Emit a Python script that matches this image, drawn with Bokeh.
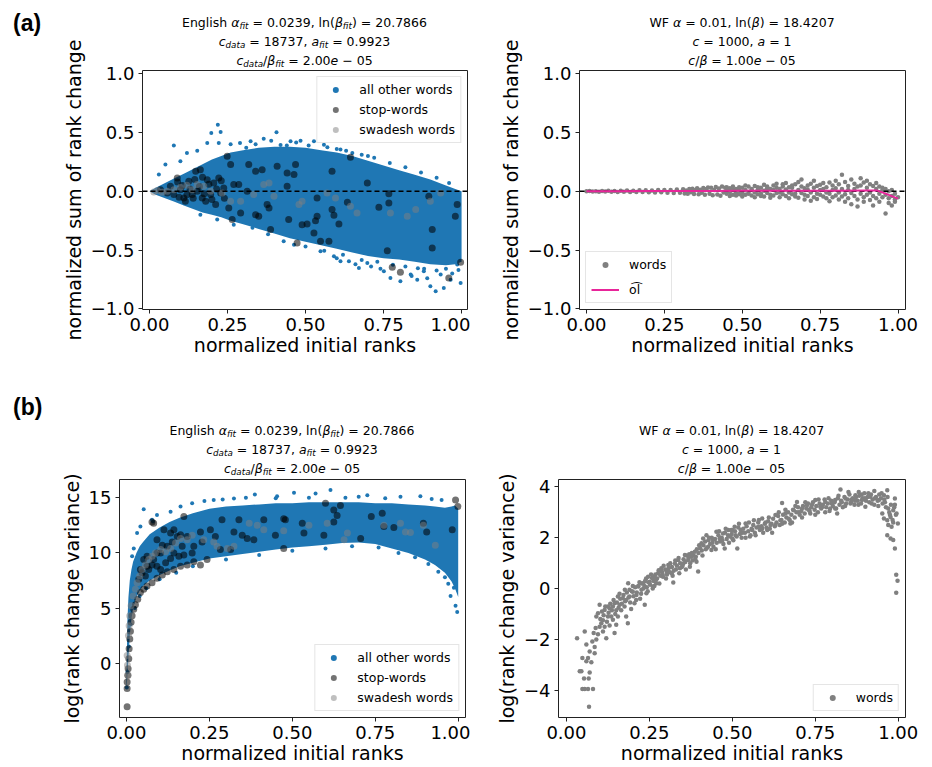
from bokeh.plotting import figure
from bokeh.models import Range1d, FixedTicker, Span, Legend, LegendItem, Div, Spacer
from bokeh.layouts import row, column
from bokeh.embed import file_html
from bokeh.resources import INLINE

# ---------------- DATA ----------------
x_ticks = [0.0, 0.25, 0.5, 0.75, 1.0]
x_tick_labels = ["0.00", "0.25", "0.50", "0.75", "1.00"]
sum_ticks = [-1.0, -0.5, 0.0, 0.5, 1.0]
sum_tick_labels = ["\u22121.0", "\u22120.5", "0.0", "0.5", "1.0"]
en_var_ticks = [0, 5, 10, 15]
en_var_tick_labels = ["0", "5", "10", "15"]
wf_var_ticks = [-4, -2, 0, 2, 4]
wf_var_tick_labels = ["\u22124", "\u22122", "0", "2", "4"]

# (a) English: dense region of "all other words" (upper / lower envelope)
en_sum_band_x = [0, .02, .05, .08, .11, .14, .17, .2, .23, .26, .3, .35, .4, .45, .5, .55, .6, .65, .7, .75, .8, .85, .9, .95, .98, 1.0]
en_sum_band_hi = [0, .03, .07, .11, .15, .19, .23, .27, .3, .33, .35, .37, .38, .38, .37, .35, .33, .3, .26, .22, .18, .14, .1, .05, .02, 0]
en_sum_band_lo = [0, -.03, -.06, -.09, -.12, -.15, -.18, -.2, -.22, -.25, -.28, -.32, -.36, -.4, -.43, -.46, -.49, -.52, -.55, -.57, -.58, -.6, -.62, -.63, -.62, -.6]
en_sum_other = [(.219, .567), (.198, .496), (.228, .505), (.078, .39), (.407, .502), (.185, .41), (.222, .41), (.26, .40),
                (.29, .41), (.324, .425), (.366, .448), (.452, .425), (.484, .43), (.527, .425), (.559, .397), (.612, .355),
                (.65, .326), (.12, .326), (.153, .346), (.051, .227), (.03, .142), (.099, .255),
                (.34, .40), (.39, .43), (.42, .395), (.47, .415), (.51, .39), (.57, .375), (.63, .345), (.68, .31), (.72, .285),
                (.77, .24), (.82, .205), (.87, .16), (.92, .115), (.96, .07), (.31, .37), (.44, .39), (.6, .36), (.7, .3),
                (.804, -.766), (.858, -.752), (.917, -.851), (.943, -.823), (.9, -.809), (.965, -.752), (.997, -.78),
                (.639, -.596), (.671, -.652), (.698, -.61), (.751, -.681), (.837, -.709), (.879, -.681), (.548, -.511),
                (.463, -.454), (.772, -.738), (.933, -.709), (.986, -.624), (.591, -.553), (.612, -.596), (.27, -.284),
                (.217, -.241), (.163, -.199), (.33, -.31), (.38, -.365), (.43, -.425), (.5, -.47), (.56, -.505), (.62, -.54),
                (.68, -.585), (.73, -.6), (.78, -.625), (.82, -.64), (.86, -.655), (.88, -.66), (.92, -.675), (.95, -.66),
                (.97, -.7), (.99, -.67), (.84, -.72), (.74, -.66), (.66, -.62), (.6, -.57), (.71, -.64), (.89, -.74)]
en_sum_stop = [(.035, .014), (.057, -.014), (.067, .043), (.078, -.028), (.089, .113), (.099, .014), (.11, -.057),
               (.115, -.085), (.126, .085), (.137, -.028), (.148, .17), (.153, 0), (.163, .184), (.169, -.057),
               (.18, -.085), (.185, .099), (.196, -.028), (.206, .071), (.212, -.113), (.222, .113), (.228, -.014),
               (.238, .028), (.249, .298), (.26, .227), (.254, -.142), (.265, -.241), (.27, .057), (.286, .057),
               (.292, -.184), (.318, .227), (.313, 0), (.34, .17), (.361, .184), (.34, -.199), (.35, -.213),
               (.377, -.113), (.383, -.142), (.388, -.326), (.409, .213), (.441, .156), (.468, .227), (.463, .142),
               (.441, .043), (.446, -.241), (.473, -.44), (.489, -.284), (.505, -.278), (.532, -.25), (.537, -.057),
               (.527, -.355), (.537, -.213), (.548, -.426), (.575, -.426), (.585, .17), (.585, -.156), (.591, -.204),
               (.607, -.278), (.634, -.094), (.644, .289), (.698, .071), (.735, -.136), (.767, -.099), (.767, -.02),
               (.762, -.505), (.778, -.647), (.804, -.689), (.895, -.043), (.906, -.326), (.906, -.482), (.959, -.738),
               (.98, -.213), (.986, -.113), (.997, -.604), (.105, .05), (.12, -.03), (.13, .02), (.14, -.06), (.16, .04),
               (.175, -.02), (.19, .06), (.2, -.07), (.215, .02), (.17, .12), (.145, .1), (.095, -.05), (.09, .08),
               (.24, -.06), (.23, .09)]
en_sum_swad = [(.014, -.006), (.025, .006), (.041, -.009), (.057, 0), (.078, .014), (.099, .034), (.12, .051),
               (.137, .014), (.153, .057), (.174, .043), (.196, 0), (.233, -.014), (.26, -.085), (.292, -.085),
               (.334, -.028), (.366, .057), (.383, .071), (.399, -.043), (.479, -.113), (.489, -.085), (.569, -.014),
               (.596, -.057), (.644, -.128), (.665, -.184), (.772, -.184), (.826, -.213), (.853, -.156), (.9, -.085),
               (.933, -.014)]

# (a) WF model: words (x, normalized sum) and expected curve
wf_sum_words = [(0, 0), (.01, .002), (.02, -.002), (.03, .001), (.04, -.003), (.05, .003), (.06, -.001), (.07, .004),
                (.08, -.004), (.09, .002), (.1, -.005), (.11, .005), (.12, -.003), (.13, .006), (.14, -.006), (.15, .004),
                (.16, -.007), (.17, .008), (.18, -.005), (.19, .009), (.2, -.009), (.21, .006), (.22, -.01), (.23, .011),
                (.24, -.008), (.25, .012), (.26, -.013), (.27, .01), (.28, -.014), (.29, .015), (.3, -.012),
                (.31, .017), (.315, -.018), (.32, .006), (.325, -.02), (.33, .02), (.335, -.008), (.34, .022),
                (.345, -.024), (.35, .01), (.355, .025), (.36, -.026), (.365, .014), (.37, -.012), (.375, .028),
                (.38, -.03), (.385, .02), (.39, .032), (.395, -.02), (.4, .03), (.405, -.034), (.41, .012), (.415, .036),
                (.42, -.028), (.425, .024), (.43, -.038), (.435, .04), (.44, -.01), (.445, .03),
                (.45, .01), (.45, -.02), (.45, .035), (.46, -.005), (.46, .025), (.46, -.04), (.47, .015), (.47, -.03),
                (.47, .04), (.48, -.01), (.48, .02), (.48, -.035), (.49, .005), (.49, .035), (.49, -.025), (.5, -.015),
                (.5, .03), (.5, -.045), (.51, .01), (.51, -.03), (.51, .05), (.52, -.005), (.52, .04), (.52, -.02),
                (.53, .02), (.53, -.035), (.53, .01), (.54, -.01), (.54, .045), (.54, -.05), (.55, .015), (.55, -.025),
                (.55, .035), (.56, -.02), (.56, .03), (.56, -.04), (.57, .005), (.57, -.045), (.57, .055), (.58, .025),
                (.58, -.015), (.58, .04), (.59, -.03), (.59, .02), (.59, -.055), (.6, .01), (.6, .05), (.6, -.035),
                (.61, -.015), (.61, .03), (.61, .065), (.62, .02), (.62, -.05), (.62, -.01), (.63, -.025), (.63, .04),
                (.63, .06), (.64, .015), (.64, -.04), (.64, .07), (.65, -.01), (.65, .035), (.65, -.06), (.66, .03),
                (.66, -.025), (.66, .05), (.67, -.02), (.67, .06), (.67, -.045), (.68, .01), (.68, -.055), (.68, .08),
                (.69, .04), (.69, -.015), (.69, .1), (.7, -.03), (.7, .025), (.7, -.07), (.71, .05), (.71, -.04),
                (.71, .015), (.72, -.01), (.72, .065), (.72, -.08), (.73, .03), (.73, -.05), (.73, .09), (.74, -.02),
                (.74, .045), (.74, -.065), (.75, .055), (.75, -.03), (.75, .01), (.76, -.045), (.76, .07), (.76, .02),
                (.77, .035), (.77, -.06), (.77, -.01), (.78, .075), (.78, -.02), (.78, -.085), (.79, .01), (.79, .05),
                (.79, -.05), (.8, -.035), (.8, .09), (.8, .025), (.81, .06), (.81, -.07), (.81, -.01), (.82, .14),
                (.82, .02), (.82, -.045), (.83, -.025), (.83, .08), (.83, -.09), (.84, .045), (.84, -.06), (.84, .01),
                (.85, -.015), (.85, .1), (.85, -.11), (.86, .065), (.86, -.04), (.86, .02), (.87, -.07), (.87, .04),
                (.87, -.13), (.88, .11), (.88, -.02), (.88, .05), (.89, -.05), (.89, .075), (.89, -.09), (.9, .03),
                (.9, -.03), (.9, .09), (.91, .06), (.91, -.075), (.91, -.01), (.92, -.04), (.92, .045), (.92, -.12),
                (.93, .02), (.93, -.06), (.93, .07), (.94, -.02), (.94, .04), (.94, -.09), (.95, .01), (.95, -.05),
                (.95, .03), (.96, -.03), (.96, -.19), (.96, .02), (.97, -.06), (.97, 0), (.97, -.1), (.98, -.04),
                (.98, .01), (.98, -.12), (.99, -.07), (.99, -.02), (.99, -.09), (1.0, -.05)]
wf_ol_x = [0, .1, .2, .3, .4, .5, .6, .7, .8, .9, .934, .96, 1.0]
wf_ol_y = [0, .001, .002, .003, .003, .004, .004, .005, .005, .006, .006, -.02, -.062]

# (b) English: log rank change variance
en_var_band_x = [0, .003, .006, .01, .015, .02, .03, .04, .05, .07, .1, .13, .16, .2, .25, .3, .35, .4, .45, .5, .55,
                 .6, .65, .7, .75, .8, .85, .9, .93, .96, .98, .99, 1.0]
en_var_band_hi = [-1, 4, 6, 7.5, 8.5, 9.2, 10, 10.6, 11, 11.7, 12.3, 12.8, 13.2, 13.6, 14.0, 14.2, 14.3, 14.4, 14.5,
                  14.5, 14.6, 14.6, 14.6, 14.6, 14.5, 14.5, 14.4, 14.3, 14.2, 14.1, 14.2, 14.3, 14.0]
en_var_band_lo = [-2.5, -1, .5, 2.5, 4, 5, 6, 6.6, 7, 7.5, 8.0, 8.4, 8.8, 9.1, 9.5, 9.7, 9.9, 10.1, 10.3, 10.5, 10.6,
                  10.75, 10.9, 10.95, 10.8, 10.4, 10.0, 9.4, 8.9, 8.2, 7.4, 6.8, 6.0]
en_var_other = [(.052, 13.95), (.08, 12.84), (.387, 15.3), (.454, 15.15), (.615, 15.7), (.57, 15.4), (.726, 15.24),
                (.826, 15.1), (.886, 15.15), (.324, 14.94), (.263, 14.8), (.198, 14.5), (.163, 14.2), (.133, 13.74),
                (.092, 13.44), (.077, 13.0), (.042, 12.4), (.032, 11.8), (.022, 10.4), (.017, 9.7), (.992, 5.2),
                (.997, 4.65), (.977, 6.1), (.987, 6.84), (.505, 15.45), (.66, 15.0), (.7, 15.1), (.78, 14.95),
                (.92, 14.9), (.95, 14.8), (.45, 14.95), (.36, 15.0), (.235, 14.7), (.29, 14.85), (.55, 15.0),
                (.3, 9.4), (.4, 9.8), (.5, 10.2), (.6, 10.4), (.68, 10.6), (.76, 10.5), (.82, 10.0), (.87, 9.6),
                (.91, 9.0), (.94, 8.3), (.96, 7.8), (.97, 7.2), (.2, 8.8), (.15, 8.2), (.1, 7.6), (.06, 6.8),
                (.04, 6.1), (.025, 5.0), (.012, 3.5), (.007, 1.5), (.003, -.8), (.001, -2.2)]
en_var_stop = [(.002, -3.96), (.002, -2.3), (.002, -1.7), (.004, -1.1), (.005, -.5), (.007, .4), (.008, 1.3), (.01, 2.2),
               (.012, 2.9), (.014, 3.7), (.017, 4.3), (.022, 4.9), (.027, 5.3), (.034, 5.8), (.042, 6.4), (.052, 6.7),
               (.062, 7.0), (.077, 7.3), (.092, 7.7), (.108, 8.0), (.123, 8.3), (.143, 8.5), (.163, 8.8), (.183, 8.9),
               (.203, 9.2), (.223, 8.9), (.243, 9.4), (.042, 8.5), (.062, 8.8), (.082, 9.4), (.103, 10.0), (.092, 11.2),
               (.082, 12.7), (.077, 12.8), (.113, 12.1), (.133, 11.8), (.153, 11.5), (.168, 10.6), (.173, 13.3),
               (.163, 11.65), (.183, 11.5), (.198, 10.0), (.203, 10.6), (.223, 11.9), (.228, 11.0), (.253, 12.1),
               (.268, 11.5), (.283, 10.3), (.288, 13.0), (.314, 10.3), (.324, 11.9), (.339, 13.0), (.349, 11.6),
               (.364, 11.3), (.384, 11.2), (.414, 13.0), (.449, 11.6), (.474, 13.1), (.479, 13.0), (.474, 10.4),
               (.53, 12.7), (.535, 11.8), (.595, 11.6), (.625, 13.9), (.635, 13.4), (.645, 14.3), (.625, 12.8),
               (.6, 14.5), (.706, 11.3), (.738, 13.3), (.771, 13.6), (.776, 12.4), (.806, 12.3), (.895, 12.7),
               (.905, 11.9), (.982, 12.1), (.992, 14.8), (.999, 14.2), (.037, 7.6), (.047, 8.2), (.057, 7.9),
               (.067, 8.5), (.077, 8.9), (.092, 8.8), (.103, 8.5), (.118, 9.1), (.133, 9.5), (.143, 10.0), (.158, 9.7),
               (.173, 9.8), (.123, 10.6), (.138, 11.0), (.108, 10.7), (.092, 10.0), (.062, 9.7), (.052, 9.4),
               (.143, 12.1)]
en_var_swad = [(.002, .7), (.003, -.2), (.005, -1.1), (.006, 2.5), (.008, 3.4), (.01, 4.3), (.014, 5.2), (.02, 6.1),
               (.027, 6.7), (.032, 7.3), (.04, 7.9), (.047, 8.5), (.057, 8.9), (.067, 9.4), (.077, 9.7), (.087, 10.0),
               (.103, 10.3), (.118, 10.1), (.133, 10.4), (.148, 10.9), (.163, 11.3), (.183, 11.2), (.198, 11.6),
               (.233, 11.2), (.263, 11.0), (.273, 10.6), (.304, 10.4), (.324, 10.6), (.37, 12.7), (.394, 12.5),
               (.414, 12.1), (.474, 12.0), (.55, 12.5), (.605, 12.7), (.656, 11.2), (.666, 11.8), (.776, 12.5),
               (.826, 12.7), (.841, 11.9), (.856, 11.85), (.895, 12.5), (.931, 10.7)]

# (b) WF model: log rank change variance
wf_var_words = [(.032, -1.95), (.04, -3.25), (.045, -3.25), (.048, -3.95), (.055, -3.95), (.065, -3.95), (.08, -3.95),
                (.068, -4.65), (.053, -3.54), (.067, -3.54), (.048, -2.73), (.06, -2.86), (.055, -1.69), (.06, -2.2),
                (.065, -2.73), (.07, -2.47), (.078, -2.08), (.082, -1.75), (.085, -2.54), (.09, -2.0), (.088, -1.55),
                (.095, -.97), (.1, -.64), (.09, -1.1), (.105, -1.36), (.11, -1.69), (.12, -1.95), (.115, -.84),
                (.125, -1.1), (.13, -.77), (.14, -1.23), (.145, -1.75), (.15, -1.42), (.145, -.58), (.155, -.31),
                (.16, -.64), (.17, -.38), (.18, -1.1), (.185, -1.36), (.176, -.05), (.186, .21), (.19, -.31),
                (.2, -.12), (.205, -.58), (.211, -.25), (.216, .08), (.226, -.05), (.231, .21), (.236, -.64),
                (.241, -.18), (.246, .47), (.251, .27), (.261, .08), (.266, .47), (.271, .21), (.276, .6), (.286, .8),
                (.291, .47), (.302, .67), (.307, .93), (.317, .6), (.322, .24), (.327, .99), (.337, 1.12), (.342, .8),
                (.352, .99), (.357, 1.32), (.367, 1.12), (.372, .86), (.377, 1.25), (.387, 1.45), (.392, 1.06),
                (.397, .67), (.407, 1.78), (.412, 1.97), (.422, 2.1), (.427, 1.65), (.437, 1.52), (.442, 1.91),
                (.452, 2.24), (.462, 1.97), (.472, 2.17), (.477, 1.58), (.487, 2.1), (.497, 2.3), (.507, 2.43),
                (.5, 1.97), (.515, 1.58), (.525, 2.3), (.54, 2.56), (.555, 2.1), (.565, 2.69), (.58, 2.43), (.59, 2.76),
                (.605, 2.3), (.615, 2.5), (.63, 2.89), (.645, 2.69), (.65, 3.37), (.66, 2.95), (.675, 2.56),
                (.685, 3.08), (.695, 3.41), (.71, 3.15), (.725, 3.28), (.735, 2.95), (.75, 3.48), (.765, 3.22),
                (.78, 3.41), (.795, 3.15), (.81, 3.48), (.816, 2.95), (.826, 3.9), (.841, 3.54), (.856, 3.35),
                (.871, 3.67), (.881, 3.8), (.891, 3.48), (.901, 3.22), (.916, 3.61), (.928, 3.84), (.942, 3.48),
                (.957, 3.67), (.967, 3.87), (.952, 2.95), (.957, 2.76), (.967, 2.69), (.977, 2.82), (.985, 3.08),
                (.99, 3.54), (.995, 2.95), (.999, 2.56), (.967, 2.1), (.977, 1.97), (.985, 1.91), (.99, 1.58),
                (.994, .54), (.998, .31), (.994, -.16), (.97, 3.15), (.98, 2.43),
                (.102, -1.2), (.107, -.9), (.112, -1.05), (.117, -.7), (.122, -1.3), (.127, -.95), (.132, -.6),
                (.137, -.85), (.142, -.45), (.147, -1.0), (.152, -.55), (.157, -.75), (.162, -.4), (.167, -.6),
                (.172, -.25), (.177, -.5), (.182, -.15), (.187, -.35), (.192, -.55), (.197, -.1), (.202, -.3),
                (.207, .05), (.212, -.15), (.217, .1), (.222, -.4), (.227, .2), (.232, 0), (.237, .3), (.242, .05),
                (.247, .25), (.252, .15), (.258, .42), (.263, .3), (.268, .55), (.273, .4), (.278, .72), (.283, .5),
                (.288, .65), (.293, .9), (.298, .75), (.303, .55), (.308, .8), (.313, 1.0), (.318, .85), (.323, .7),
                (.328, 1.1), (.333, .9), (.338, 1.2), (.343, 1.0), (.348, .85), (.353, 1.15), (.358, 1.05),
                (.363, 1.3), (.368, 1.2), (.373, 1.0), (.378, 1.4), (.383, 1.3), (.388, 1.15), (.393, 1.55),
                (.398, 1.4), (.403, 1.6), (.408, 1.5), (.413, 1.7), (.418, 1.85), (.423, 1.6), (.428, 1.9),
                (.433, 1.75), (.438, 2.0), (.443, 1.65), (.448, 1.95), (.453, 1.8), (.458, 2.1), (.463, 1.85),
                (.468, 2.0), (.473, 1.75), (.478, 2.2), (.483, 1.95), (.488, 2.3), (.493, 2.05), (.498, 2.15),
                (.503, 1.9), (.508, 2.25), (.513, 2.05), (.518, 2.4), (.523, 2.15), (.528, 2.0), (.533, 2.35),
                (.538, 2.2), (.543, 2.45), (.548, 2.25), (.553, 2.05), (.558, 2.35), (.563, 2.5), (.568, 2.2),
                (.573, 2.4), (.578, 2.6), (.583, 2.3), (.588, 2.45), (.593, 2.2), (.598, 2.55), (.603, 2.4),
                (.608, 2.65), (.613, 2.35), (.618, 2.55), (.623, 2.75), (.628, 2.45), (.633, 2.6), (.638, 2.85),
                (.643, 2.5), (.648, 2.7), (.653, 2.9), (.658, 2.6), (.663, 2.8), (.668, 3.0), (.673, 2.7), (.678, 2.9),
                (.683, 3.1), (.688, 2.8), (.693, 3.0), (.698, 3.2), (.703, 2.9), (.708, 3.05), (.713, 3.25),
                (.718, 2.95), (.723, 3.15), (.728, 3.35), (.733, 3.05), (.738, 3.2), (.743, 3.4), (.748, 3.1),
                (.753, 3.25), (.758, 3.0), (.763, 3.35), (.768, 3.15), (.773, 3.3), (.778, 3.5), (.783, 3.2),
                (.788, 3.35), (.793, 3.05), (.798, 3.45), (.803, 3.25), (.808, 3.4), (.813, 3.15), (.818, 3.55),
                (.823, 3.3), (.828, 3.45), (.833, 3.2), (.838, 3.6), (.843, 3.35), (.848, 3.5), (.853, 3.7),
                (.858, 3.4), (.863, 3.55), (.868, 3.3), (.873, 3.6), (.878, 3.45), (.883, 3.65), (.888, 3.35),
                (.893, 3.55), (.898, 3.75), (.903, 3.45), (.908, 3.6), (.913, 3.4), (.918, 3.7), (.923, 3.5),
                (.928, 3.3), (.933, 3.6), (.938, 3.45), (.943, 3.7), (.948, 3.55), (.953, 3.35), (.958, 3.5),
                (.963, 3.2), (.968, 3.6), (.973, 3.0), (.978, 3.3), (.983, 2.7), (.988, 3.2), (.993, 2.9),
                (.26, 0), (.27, .35), (.28, .2), (.29, .55), (.3, .4), (.31, .65), (.32, .5), (.33, .75), (.34, .6),
                (.35, .9), (.36, .75), (.37, 1.35), (.38, 1.1), (.39, 1.25), (.4, 1.7), (.41, 1.3), (.42, 1.55),
                (.43, 2.0), (.44, 1.8), (.45, 1.55), (.46, 2.25), (.47, 1.9), (.48, 2.35), (.49, 1.8), (.5, 2.3),
                (.51, 2.1), (.52, 2.55), (.53, 2.2), (.54, 2.0), (.55, 2.6), (.56, 2.3), (.57, 2.1), (.58, 2.7),
                (.59, 2.35), (.6, 2.6), (.61, 2.8), (.62, 2.2), (.63, 2.5), (.64, 3.0), (.65, 2.55), (.66, 3.1),
                (.67, 2.75), (.68, 2.6), (.69, 3.25), (.7, 3.0), (.71, 2.8), (.72, 3.4), (.73, 3.1), (.74, 3.3),
                (.75, 2.9), (.76, 3.5), (.77, 3.2), (.78, 3.0), (.79, 3.55), (.8, 3.35), (.81, 3.15), (.82, 3.65),
                (.83, 3.4), (.84, 3.25), (.85, 3.8), (.86, 3.5), (.87, 3.45), (.88, 3.3), (.89, 3.7), (.9, 3.55),
                (.91, 3.75), (.92, 3.35), (.93, 3.55), (.94, 3.25), (.95, 3.75), (.96, 3.4), (.97, 2.5), (.975, 2.9),
                (.985, 2.6), (.99, 3.3), (.07, -3.3), (.075, -2.9), (.085, -2.3), (.095, -1.8), (.1, -1.5),
                (.11, -1.25), (.115, -1.5), (.125, -.7), (.13, -1.45), (.135, -1.1), (.14, -.7), (.15, -.85),
                (.155, -1.1), (.16, -.2), (.165, -.85), (.175, -.7), (.18, -.45), (.19, -.05), (.195, -.8), (.2, .1),
                (.21, -.45), (.22, .25), (.225, -.2), (.235, .1), (.24, .4), (.245, -.1), (.255, .55), (.265, .1)]

# ---------------- STYLE ----------------
BLUE = "#1f77b4"
FONT = "DejaVu Sans"
H_A = 357
H_B = 401


def xs(pairs):
    return [p[0] for p in pairs]


def ys(pairs):
    return [p[1] for p in pairs]


def make_fig(w, h, bl, br, bt, bb, xr, yr, xt, xtl, yt, ytl, xlabel, ylabel):
    p = figure(width=w, height=h, x_range=Range1d(*xr), y_range=Range1d(*yr),
               output_backend="svg", toolbar_location=None,
               min_border_left=bl, min_border_right=br, min_border_top=bt, min_border_bottom=bb)
    p.xgrid.visible = False
    p.ygrid.visible = False
    p.border_fill_alpha = 0
    p.outline_line_color = "#222222"
    p.outline_line_width = 1
    p.outline_line_alpha = 1
    p.xaxis.ticker = FixedTicker(ticks=xt)
    p.xaxis.major_label_overrides = dict(zip(xt, xtl))
    p.yaxis.ticker = FixedTicker(ticks=yt)
    p.yaxis.major_label_overrides = dict(zip(yt, ytl))
    p.xaxis.axis_label = xlabel
    p.yaxis.axis_label = ylabel
    for ax in (p.xaxis[0], p.yaxis[0]):
        ax.axis_line_color = None
        ax.major_tick_line_color = "#222222"
        ax.major_tick_out = 4
        ax.major_tick_in = 0
        ax.minor_tick_line_color = None
        ax.major_label_text_font = FONT
        ax.major_label_text_font_size = "18px"
        ax.major_label_text_color = "black"
        ax.axis_label_text_font = FONT
        ax.axis_label_text_font_size = "19px"
        ax.axis_label_text_font_style = "normal"
        ax.axis_label_text_color = "black"
    p.xaxis.major_label_standoff = 4
    p.xaxis.axis_label_standoff = 0
    p.yaxis.major_label_standoff = 4
    p.yaxis.axis_label_standoff = 3
    return p


def style_legend(lg, loc, pad, gw, ls, spacing):
    lg.location = loc
    lg.margin = 6
    lg.padding = pad
    lg.spacing = spacing
    lg.glyph_width = gw
    lg.glyph_height = 15
    lg.label_height = 15
    lg.label_standoff = ls
    lg.label_text_font = FONT
    lg.label_text_font_size = "12.5px"
    lg.label_text_color = "black"
    lg.border_line_color = "#cccccc"
    lg.border_line_width = 1
    lg.background_fill_alpha = 0.8


# ---------- (a) left ----------
pa1 = make_fig(462, H_A, 134, 3, 62, 56, (-0.0224, 1.019), (-1.006, 1.028),
               x_ticks, x_tick_labels, sum_ticks, sum_tick_labels,
               "normalized initial ranks", "normalized sum of rank change")
pa1.varea(x=en_sum_band_x, y1=en_sum_band_lo, y2=en_sum_band_hi, fill_color=BLUE)
r_o = pa1.scatter(xs(en_sum_other), ys(en_sum_other), size=4, color=BLUE, line_color=None)
r_s = pa1.scatter(xs(en_sum_stop), ys(en_sum_stop), size=7, color="black", alpha=0.55, line_color=None)
r_w = pa1.scatter(xs(en_sum_swad), ys(en_sum_swad), size=7, color="gray", alpha=0.5, line_color=None)
pa1.add_layout(Span(location=0, dimension="width", line_color="black", line_dash="5 3", line_width=1.5))
lg = Legend(items=[LegendItem(label="all other words", renderers=[r_o]),
                   LegendItem(label="stop-words", renderers=[r_s]),
                   LegendItem(label="swadesh words", renderers=[r_w])])
style_legend(lg, "top_right", 5, 26, 11, 5)
pa1.add_layout(lg)

# ---------- (a) right ----------
pa2 = make_fig(454, H_A, 109, 19, 62, 56, (-0.0225, 1.024), (-1.006, 1.028),
               x_ticks, x_tick_labels, sum_ticks, sum_tick_labels,
               "normalized initial ranks", "normalized sum of rank change")
r_wf = pa2.scatter(xs(wf_sum_words), ys(wf_sum_words), size=4.5, color="gray", line_color=None)
pa2.add_layout(Span(location=0, dimension="width", line_color="black", line_dash="5 3", line_width=1.5))
r_ol = pa2.line(wf_ol_x, wf_ol_y, line_color="#e8259a", line_width=2, level="overlay")
lg2 = Legend(items=[LegendItem(label="words", renderers=[r_wf]),
                    LegendItem(label="o\u0361l", renderers=[r_ol])])
style_legend(lg2, "bottom_left", 5, 28, 10, 10)
pa2.add_layout(lg2)

# ---------- (b) left ----------
pb1 = make_fig(462, H_B, 111, 5, 114, 47, (-0.021, 1.022), (-4.93, 16.66),
               x_ticks, x_tick_labels, en_var_ticks, en_var_tick_labels,
               "normalized initial ranks", "log(rank change variance)")
pb1.varea(x=en_var_band_x, y1=en_var_band_lo, y2=en_var_band_hi, fill_color=BLUE)
r_o3 = pb1.scatter(xs(en_var_other), ys(en_var_other), size=4, color=BLUE, line_color=None)
r_s3 = pb1.scatter(xs(en_var_stop), ys(en_var_stop), size=7, color="black", alpha=0.55, line_color=None)
r_w3 = pb1.scatter(xs(en_var_swad), ys(en_var_swad), size=7, color="gray", alpha=0.5, line_color=None)
lg3 = Legend(items=[LegendItem(label="all other words", renderers=[r_o3]),
                    LegendItem(label="stop-words", renderers=[r_s3]),
                    LegendItem(label="swadesh words", renderers=[r_w3])])
style_legend(lg3, "bottom_right", 5, 26, 11, 5)
pb1.add_layout(lg3)

# ---------- (b) right ----------
pb2 = make_fig(454, H_B, 88, 19, 114, 47, (-0.024, 1.022), (-5.07, 4.29),
               x_ticks, x_tick_labels, wf_var_ticks, wf_var_tick_labels,
               "normalized initial ranks", "log(rank change variance)")
r_wf4 = pb2.scatter(xs(wf_var_words), ys(wf_var_words), size=4.5, color="gray", line_color=None)
lg4 = Legend(items=[LegendItem(label="words", renderers=[r_wf4])])
style_legend(lg4, "bottom_right", 5, 27, 10, 5)
pb2.add_layout(lg4)


# ---------------- TITLES ----------------
def mi(s):
    return f"<i>{s}</i>"


def sb(s):
    return f'<span style="font-size:70%;vertical-align:-0.28em;line-height:0"><i>{s}</i></span>'


en_title = [f"English {mi('&alpha;')}{sb('fit')} = 0.0239, ln({mi('&beta;')}{sb('fit')}) = 20.7866",
            f"{mi('c')}{sb('data')} = 18737, {mi('a')}{sb('fit')} = 0.9923",
            f"{mi('c')}{sb('data')}/{mi('&beta;')}{sb('fit')} = 2.00{mi('e')} &minus; 05"]
wf_title = [f"WF {mi('&alpha;')} = 0.01, ln({mi('&beta;')}) = 18.4207",
            f"{mi('c')} = 1000, {mi('a')} = 1",
            f"{mi('c')}/{mi('&beta;')} = 1.00{mi('e')} &minus; 05"]


def title_div(lines, w, h, pad_top):
    inner = "".join(f'<div style="height:19px;line-height:19px;white-space:nowrap">{ln}</div>' for ln in lines)
    html = (f'<div style="width:{w}px;text-align:center;font-family:\'DejaVu Sans\';font-size:12.5px;'
            f'color:black;padding-top:{pad_top}px">{inner}</div>')
    return Div(text=html, width=w, height=h, margin=0, disable_math=True)


def tag_div(text, w, h, pad_top):
    html = (f'<div style="font-family:\'Liberation Sans\';font-weight:bold;font-size:23px;line-height:23px;'
            f'color:black;padding-left:5px;padding-top:{pad_top}px">{text}</div>')
    return Div(text=html, width=w, height=h, margin=0, disable_math=True)


OVER = {"position": "relative", "z-index": "10"}

row_fa = row(children=[Spacer(width=8, height=H_A, margin=0), pa1, pa2], spacing=0)
row_ta = row(children=[Spacer(width=8, height=60, margin=0), tag_div("(a)", 134, 60, 4),
                       title_div(en_title, 325, 60, 5),
                       Spacer(width=112, height=60, margin=0), title_div(wf_title, 326, 60, 5),
                       Spacer(width=19, height=60, margin=0)],
             spacing=0, margin=(-H_A, 0, H_A - 60, 0), styles=OVER)
row_fb = row(children=[Spacer(width=8, height=H_B, margin=0), pb1, pb2], spacing=0)
row_tb = row(children=[Spacer(width=8, height=117, margin=0), tag_div("(b)", 111, 117, 31),
                       title_div(en_title, 346, 117, 56),
                       Spacer(width=93, height=117, margin=0), title_div(wf_title, 347, 117, 56),
                       Spacer(width=19, height=117, margin=0)],
             spacing=0, margin=(-H_B, 0, H_B - 117, 0), styles=OVER)
page = column(children=[Spacer(width=8, height=8, margin=0), row_fa, row_ta, row_fb, row_tb], spacing=0)

open("out.html", "w").write(file_html(page, INLINE))
